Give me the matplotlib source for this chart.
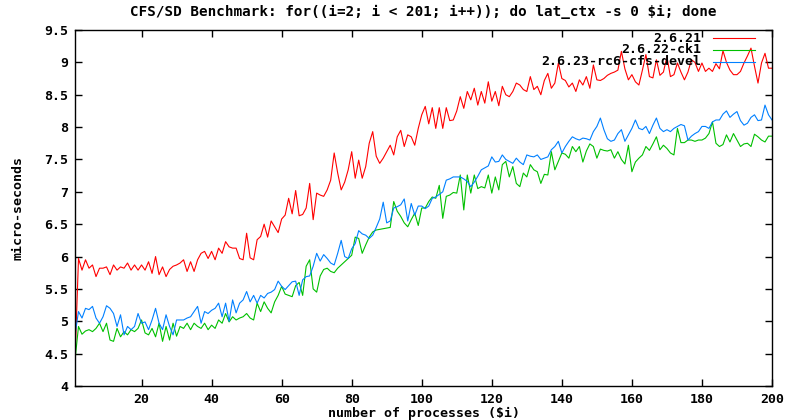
import matplotlib
matplotlib.use('Agg')
import matplotlib.pyplot as plt
from matplotlib.ticker import FuncFormatter, MultipleLocator

# ---------- data ---------- #

nproc = list(range(1, 201))

# 2.6.21
v2621 = [
    4.40, 5.97, 5.79, 5.95, 5.82, 5.87, 5.69, 5.82, 5.82, 5.84,
    5.72, 5.87, 5.79, 5.84, 5.82, 5.90, 5.79, 5.87, 5.79, 5.87,
    5.79, 5.92, 5.74, 6.00, 5.72, 5.84, 5.69, 5.80, 5.85, 5.87,
    5.90, 5.95, 5.77, 5.92, 5.77, 5.95, 6.05, 6.08, 5.97, 6.08,
    5.95, 6.13, 6.05, 6.23, 6.15, 6.13, 6.13, 5.97, 5.95, 6.36,
    5.98, 5.95, 6.26, 6.31, 6.50, 6.30, 6.55, 6.46, 6.37, 6.58,
    6.64, 6.90, 6.66, 7.02, 6.63, 6.65, 6.75, 7.13, 6.57, 6.98,
    6.95, 6.93, 7.03, 7.18, 7.60, 7.29, 7.03, 7.15, 7.34, 7.62,
    7.21, 7.49, 7.21, 7.39, 7.75, 7.93, 7.55, 7.44, 7.52, 7.62,
    7.72, 7.57, 7.85, 7.95, 7.70, 7.88, 7.85, 7.72, 7.98, 8.19,
    8.32, 8.05, 8.30, 7.98, 8.30, 7.98, 8.30, 8.10, 8.11, 8.25,
    8.47, 8.29, 8.55, 8.42, 8.60, 8.34, 8.55, 8.37, 8.70, 8.40,
    8.55, 8.33, 8.63, 8.50, 8.47, 8.55, 8.68, 8.65, 8.58, 8.55,
    8.78, 8.58, 8.63, 8.50, 8.72, 8.83, 8.60, 8.68, 8.99, 8.75,
    8.72, 8.62, 8.68, 8.55, 8.73, 8.65, 8.78, 8.60, 8.96, 8.73,
    8.72, 8.75, 8.80, 8.83, 8.85, 8.88, 9.17, 8.90, 8.73, 8.81,
    8.70, 8.65, 8.88, 9.12, 8.78, 8.76, 9.04, 8.80, 8.85, 9.09,
    8.78, 8.81, 8.99, 8.85, 8.73, 8.85, 9.04, 9.00, 8.86, 8.99,
    8.86, 8.91, 8.86, 8.98, 8.90, 9.18, 9.00, 8.88, 8.81, 8.81,
    8.86, 8.99, 9.10, 9.22, 8.94, 8.68, 8.99, 9.14, 8.91, 8.91,
]

# 2.6.22-ck1
v2622ck = [
    4.40, 4.92, 4.80, 4.85, 4.87, 4.84, 4.89, 4.97, 4.84, 4.97,
    4.71, 4.69, 4.89, 4.76, 4.84, 4.79, 4.87, 4.84, 4.89, 5.02,
    4.82, 4.79, 4.89, 4.76, 4.97, 4.69, 4.92, 4.71, 4.97, 4.77,
    4.92, 4.89, 4.97, 4.87, 4.97, 4.92, 4.89, 4.97, 4.87, 4.94,
    4.89, 5.02, 4.97, 5.12, 4.99, 5.07, 5.02, 5.05, 5.07, 5.12,
    5.05, 5.02, 5.28, 5.15, 5.30, 5.20, 5.13, 5.30, 5.40, 5.54,
    5.42, 5.40, 5.38, 5.55, 5.60, 5.40, 5.85, 5.95, 5.50, 5.45,
    5.70, 5.80, 5.82, 5.77, 5.75, 5.82, 5.87, 5.92, 5.97, 6.02,
    6.30, 6.28, 6.05, 6.18, 6.30, 6.38, 6.41, 6.42, 6.43, 6.44,
    6.45, 6.85, 6.70, 6.62, 6.52, 6.46, 6.57, 6.67, 6.48, 6.75,
    6.75, 6.85, 6.92, 6.90, 7.10, 6.59, 6.93, 6.95, 6.99, 6.98,
    7.26, 6.72, 7.26, 6.98, 7.26, 7.05, 7.08, 7.06, 7.26, 6.98,
    7.23, 7.03, 7.42, 7.47, 7.23, 7.39, 7.13, 7.08, 7.29, 7.23,
    7.42, 7.34, 7.31, 7.13, 7.27, 7.26, 7.62, 7.34, 7.47, 7.60,
    7.58, 7.52, 7.70, 7.62, 7.70, 7.46, 7.63, 7.74, 7.70, 7.52,
    7.66, 7.64, 7.63, 7.65, 7.52, 7.62, 7.50, 7.43, 7.72, 7.31,
    7.46, 7.52, 7.57, 7.70, 7.64, 7.74, 7.85, 7.65, 7.72, 7.67,
    7.60, 7.57, 7.98, 7.76, 7.76, 7.80, 7.80, 7.78, 7.80, 7.80,
    7.83, 7.90, 8.08, 7.75, 7.70, 7.73, 7.88, 7.77, 7.90, 7.80,
    7.70, 7.74, 7.75, 7.70, 7.89, 7.85, 7.80, 7.77, 7.86, 7.86,
]

# 2.6.23-rc6-cfs-devel
v2623cfs = [
    4.79, 5.15, 5.05, 5.20, 5.18, 5.23, 5.05, 4.97, 5.07, 5.24,
    5.20, 5.12, 4.92, 5.10, 4.79, 4.92, 4.87, 4.92, 5.12, 4.97,
    4.99, 4.87, 5.02, 5.20, 4.97, 4.87, 5.10, 4.92, 4.79, 5.02,
    5.02, 5.02, 5.05, 5.07, 5.15, 5.23, 4.97, 5.15, 5.12, 5.17,
    5.20, 5.28, 5.07, 5.28, 5.00, 5.33, 5.13, 5.28, 5.33, 5.46,
    5.30, 5.40, 5.28, 5.40, 5.36, 5.43, 5.45, 5.49, 5.62, 5.54,
    5.49, 5.55, 5.61, 5.62, 5.40, 5.64, 5.69, 5.70, 5.85, 6.05,
    5.93, 6.03, 5.97, 5.90, 5.87, 6.05, 6.25, 6.00, 5.97, 6.12,
    6.20, 6.40, 6.35, 6.33, 6.28, 6.33, 6.45, 6.58, 6.84, 6.52,
    6.55, 6.75, 6.77, 6.80, 6.89, 6.55, 6.82, 6.64, 6.78, 6.78,
    6.74, 6.78, 6.90, 6.92, 6.96, 7.00, 7.18, 7.20, 7.23, 7.23,
    7.23, 7.20, 7.16, 7.08, 7.15, 7.24, 7.34, 7.37, 7.40, 7.54,
    7.46, 7.47, 7.57, 7.50, 7.47, 7.44, 7.52, 7.46, 7.42, 7.57,
    7.55, 7.54, 7.57, 7.50, 7.52, 7.54, 7.65, 7.70, 7.78, 7.60,
    7.70, 7.78, 7.85, 7.82, 7.80, 7.83, 7.82, 7.80, 7.93, 8.01,
    8.14, 7.96, 7.82, 7.78, 7.80, 7.90, 7.96, 7.78, 7.88, 7.98,
    8.11, 7.98, 7.96, 8.01, 7.90, 8.03, 8.14, 7.98, 7.93, 7.96,
    7.93, 7.98, 8.01, 8.04, 8.02, 7.80, 7.86, 7.90, 7.93, 8.01,
    8.01, 7.98, 8.08, 8.11, 8.11, 8.20, 8.25, 8.15, 8.20, 8.24,
    8.10, 8.03, 8.06, 8.15, 8.19, 8.10, 8.11, 8.34, 8.19, 8.11,
]

series = [
    ('2.6.21', v2621, '#ff0000'),
    ('2.6.22-ck1', v2622ck, '#00c000'),
    ('2.6.23-rc6-cfs-devel', v2623cfs, '#0080ff'),
]

# ---------------- plot ---------------- #

plt.rcParams['font.family'] = ['DejaVu Sans Mono']
plt.rcParams['font.weight'] = 'bold'
fs = 9.5

fig = plt.figure(figsize=(7.89, 4.20), dpi=100)
ax = fig.add_axes([75 / 789, 1 - 386 / 420, 697 / 789, 356 / 420])

for name, vals, col in series:
    ax.plot(nproc, vals, color=col, lw=0.8, label=name)

ax.set_xlim(1, 200)
ax.set_ylim(4, 9.5)
ax.xaxis.set_major_locator(MultipleLocator(20))
ax.yaxis.set_major_locator(MultipleLocator(0.5))
ax.yaxis.set_major_formatter(FuncFormatter(lambda v, p: '%g' % v))
ax.tick_params(direction='in', length=5, width=1, top=True, right=True,
               labelsize=fs, pad=5)
for s in ax.spines.values():
    s.set_linewidth(1.0)
    s.set_color('black')

xc = (75 + 772) / 2 / 789
fig.text(xc, 1 - 12 / 420,
         'CFS/SD Benchmark: for((i=2; i < 201; i++)); do lat_ctx -s 0 \\$i; done',
         ha='center', va='center', fontsize=10.3)
fig.text(xc, 1 - 413 / 420, 'number of processes (\\$i)',
         ha='center', va='center', fontsize=fs)
fig.text(18 / 789, 1 - 208 / 420, 'micro-seconds', rotation=90,
         ha='center', va='center', fontsize=fs)

# key, gnuplot style: label right-aligned, sample line to its right
rows = [0.977, 0.944, 0.911]
for (name, vals, col), ry in zip(series, rows):
    ax.text(0.898, ry, name, transform=ax.transAxes, ha='right',
            va='center', fontsize=fs)
    ax.plot([0.915, 0.976], [ry, ry], color=col, lw=0.8,
            transform=ax.transAxes)

plt.savefig('out.png', dpi=100)
